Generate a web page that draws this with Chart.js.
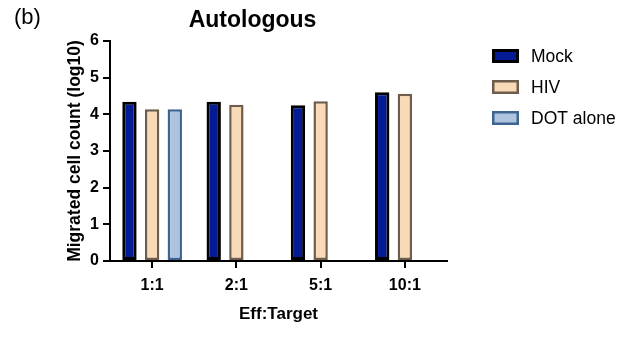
<!DOCTYPE html>
<html>
<head>
<meta charset="utf-8">
<script src="https://cdn.jsdelivr.net/npm/chart.js@4"></script>
<style>
  html, body { margin: 0; padding: 0; background: #ffffff; }
  #wrap { width: 629px; height: 339px; position: relative; }
</style>
</head>
<body>
<div id="wrap"><canvas id="c" width="629" height="339"></canvas></div>
<script>
// Effector:target ratios
const categories = ['1:1', '2:1', '5:1', '10:1'];
// Migrated cell count, log10
const mockValues = [4.34, 4.34, 4.25, 4.60];
const hivValues = [4.14, 4.26, 4.36, 4.56];
const dotAloneValues = [4.14, null, null, null];
const yTicks = [0, 1, 2, 3, 4, 5, 6];

const FONT = '"Liberation Sans", Arial, Helvetica, sans-serif';

// Panel letter, heading and the legend at the right
const decorations = {
  id: 'decorations',
  afterDraw(chart) {
    const ctx = chart.ctx;
    ctx.save();
    ctx.fillStyle = '#000';
    ctx.textBaseline = 'alphabetic';
    ctx.textAlign = 'left';
    ctx.font = '22px ' + FONT;
    ctx.fillText('(b)', 14, 24);
    ctx.textAlign = 'center';
    ctx.font = 'bold 23px ' + FONT;
    ctx.fillText('Autologous', 252.5, 27);

    ctx.textAlign = 'left';
    ctx.textBaseline = 'middle';
    ctx.font = '17.5px ' + FONT;
    chart.data.datasets.forEach((ds, i) => {
      const y = 56 + i * 31;
      const bw = ds.borderWidth;
      ctx.fillStyle = ds.borderColor;
      ctx.fillRect(492, y - 7, 27, 14);
      ctx.fillStyle = ds.backgroundColor;
      ctx.fillRect(492 + bw, y - 7 + bw, 27 - 2 * bw, 14 - 2 * bw);
      ctx.fillStyle = '#000';
      ctx.fillText(ds.label, 531, y + 1);
    });
    ctx.restore();
  }
};

new Chart(document.getElementById('c'), {
  type: 'bar',
  data: {
    labels: categories,
    datasets: [
      { label: 'Mock', data: mockValues, backgroundColor: '#031b94', borderColor: '#000000', borderWidth: 3 },
      { label: 'HIV', data: hivValues, backgroundColor: '#f8dab6', borderColor: '#6e5d4a', borderWidth: 2.5 },
      { label: 'DOT alone', data: dotAloneValues, backgroundColor: '#aec3de', borderColor: '#3d6590', borderWidth: 2.5 }
    ]
  },
  plugins: [decorations],
  options: {
    responsive: false,
    animation: false,
    devicePixelRatio: 1,
    layout: { padding: { top: 41, right: 182, left: 0, bottom: 0 } },
    datasets: { bar: { categoryPercentage: 0.807, barPercentage: 0.634, borderSkipped: false } },
    plugins: { legend: { display: false }, tooltip: { enabled: false }, title: { display: false } },
    scales: {
      x: {
        type: 'category',
        offset: true,
        afterFit(scale) { scale.height = 78; },
        grid: { display: true, drawOnChartArea: false, drawTicks: true, tickLength: 7, offset: false, color: '#000', lineWidth: 2 },
        border: { display: true, color: '#000', width: 2 },
        ticks: { color: '#000', font: { family: FONT, size: 16, weight: 'bold' }, padding: 8, maxRotation: 0 },
        title: { display: true, text: 'Eff:Target', color: '#000', font: { family: FONT, size: 17, weight: 'bold' }, padding: { top: 0, bottom: 14.8 } }
      },
      y: {
        min: 0,
        max: 6,
        afterFit(scale) { scale.width = 110; },
        afterBuildTicks(scale) { scale.ticks = yTicks.map(v => ({ value: v })); },
        grid: { display: true, drawOnChartArea: false, drawTicks: true, tickLength: 7, color: '#000', lineWidth: 2 },
        border: { display: true, color: '#000', width: 2 },
        ticks: { color: '#000', font: { family: FONT, size: 16, weight: 'bold' }, padding: 4 },
        title: { display: true, text: 'Migrated cell count (log10)', color: '#000', font: { family: FONT, size: 17.5, weight: 'bold' }, padding: { top: 64.5, bottom: 0 } }
      }
    }
  }
});
</script>
</body>
</html>
